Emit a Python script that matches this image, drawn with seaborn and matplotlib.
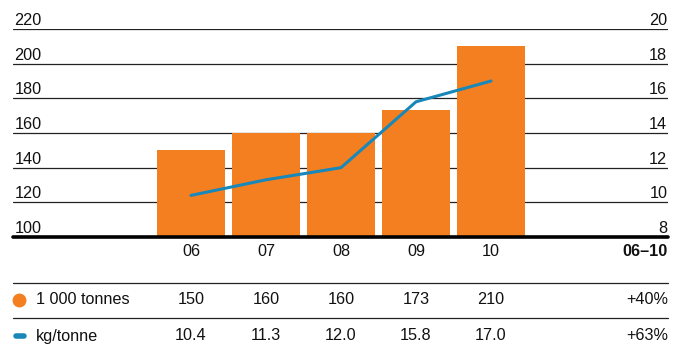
import matplotlib
matplotlib.use("Agg")
import matplotlib.pyplot as plt
import matplotlib.transforms as mtrans
from matplotlib.lines import Line2D
import seaborn as sns
import pandas as pd

years = ["06", "07", "08", "09", "10"]
tonnes = [150, 160, 160, 173, 210]
kg_per_tonne = [10.4, 11.3, 12.0, 15.8, 17.0]
left_ticks = [100, 120, 140, 160, 180, 200, 220]
right_ticks = [8, 10, 12, 14, 16, 18, 20]
tonnes_label = "1 000 tonnes"
kg_label = "kg/tonne"
period_label = "06–10"
tonnes_change = "+40%"
kg_change = "+63%"

ORANGE = "#F47F20"
BLUE = "#1788B9"

sns.set_theme(style="white")
plt.rcParams["font.family"] = ["Liberation Sans", "DejaVu Sans"]

W, H = 682, 350
fig = plt.figure(figsize=(W / 100, H / 100), dpi=100)

def fx(px):
    return px / W

def fy(py):
    return 1 - py / H

ax = fig.add_axes([fx(13), fy(237), fx(668) - fx(13), fy(29) - fy(237)])
df = pd.DataFrame({"year": years, "tonnes": tonnes, "kg": kg_per_tonne})

sns.barplot(data=df, x="year", y="tonnes", color=ORANGE, saturation=1,
            width=0.9, ax=ax, zorder=3, linewidth=0, edgecolor="none")
ax.set_ylim(left_ticks[0], left_ticks[-1])
ax.set_xlim(-2.373, 6.36)
for t in left_ticks[1:]:
    ax.axhline(t, color="#222222", lw=0.9, zorder=1)
ax.axhline(left_ticks[0], color="black", lw=2.6, zorder=5, clip_on=False)

ax2 = ax.twinx()
df["pos"] = range(len(years))
sns.lineplot(data=df, x="pos", y="kg", color=BLUE, lw=2.2, ax=ax2, zorder=4)
ax2.set_ylim(right_ticks[0], right_ticks[-1])
ax2.set_xlim(-2.373, 6.36)

for a in (ax, ax2):
    a.set_xticks([])
    a.set_yticks([])
    a.set_xlabel("")
    a.set_ylabel("")
    for s in a.spines.values():
        s.set_visible(False)
    a.patch.set_visible(False)

fs = 11.7
tl = mtrans.blended_transform_factory(ax.transAxes, ax.transData)
for t in left_ticks:
    ax.text(0.002, t + 0.6, str(t), transform=tl, ha="left", va="bottom",
            fontsize=fs, color="#111111")
tr = mtrans.blended_transform_factory(ax2.transAxes, ax2.transData)
for t in right_ticks:
    ax2.text(0.999, t + 0.06, str(t), transform=tr, ha="right", va="bottom",
             fontsize=fs, color="#111111")

# table below
bt = mtrans.blended_transform_factory(ax.transData, fig.transFigure)
for i, y in enumerate(years):
    fig.text(i, fy(252), y, transform=bt, ha="center", va="center", fontsize=fs, color="#111111")
    fig.text(i, fy(300), str(tonnes[i]), transform=bt, ha="center", va="center", fontsize=fs, color="#111111")
    fig.text(i, fy(336), f"{kg_per_tonne[i]:.1f}", transform=bt, ha="center", va="center", fontsize=fs, color="#111111")

fig.text(fx(668), fy(252), period_label, ha="right", va="center", fontsize=fs, fontweight="bold", color="#111111")
fig.text(fx(668), fy(300), tonnes_change, ha="right", va="center", fontsize=fs, color="#111111")
fig.text(fx(668), fy(336), kg_change, ha="right", va="center", fontsize=fs, color="#111111")
fig.text(fx(36), fy(300), tonnes_label, ha="left", va="center", fontsize=fs, color="#111111")
fig.text(fx(36), fy(336), kg_label, ha="left", va="center", fontsize=fs, color="#111111")

for py in (283, 318):
    fig.add_artist(Line2D([fx(13), fx(668)], [fy(py), fy(py)], color="#222222", lw=0.9))

fig.add_artist(Line2D([fx(19)], [fy(300)], marker="o", markersize=9,
                      color=ORANGE, linestyle="none"))
fig.add_artist(Line2D([fx(16), fx(24)], [fy(336), fy(336)], color=BLUE, lw=4,
                      solid_capstyle="round"))

fig.savefig("out.png", dpi=100, facecolor="white")
